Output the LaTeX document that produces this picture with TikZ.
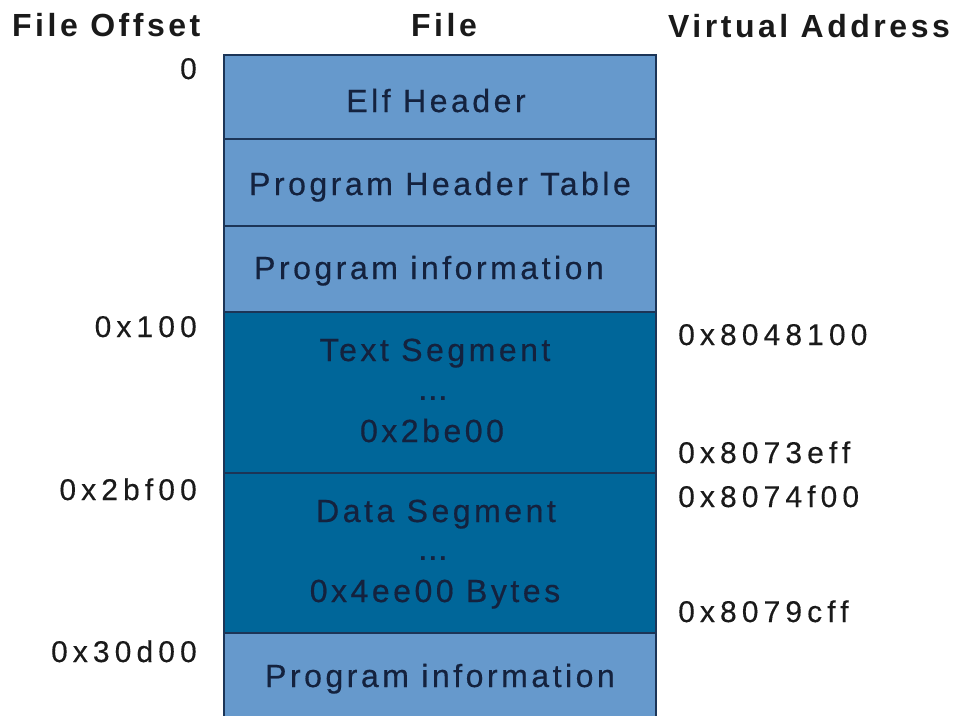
\documentclass[tikz,border=0pt]{standalone}
\usepackage{fontspec}
\setmainfont{Liberation Sans}
\newfontfamily\boxfont[LetterSpace=11, FakeBold=0.5]{Liberation Sans}
\newfontfamily\headfont[LetterSpace=11]{Liberation Sans Bold}
\newfontfamily\labfont[LetterSpace=17, FakeBold=0.3]{Liberation Sans}
\definecolor{segLight}{HTML}{6699CC}
\definecolor{segDark}{HTML}{006699}
\definecolor{segEdge}{HTML}{1C3557}
\definecolor{segInk}{HTML}{14223E}
\definecolor{labInk}{HTML}{1A1A1A}
\tikzset{
  cell/.style={draw=segEdge, line width=2pt, rectangle, inner sep=0pt,
               minimum width=432pt},
  lightcell/.style={cell, fill=segLight},
  darkcell/.style={cell, fill=segDark},
  head/.style={inner sep=0pt, text=labInk, font=\headfont\fontsize{32}{36}\selectfont},
  intext/.style={inner sep=0pt, anchor=base, text=segInk, font=\boxfont\fontsize{32}{36}\selectfont},
  dots/.style={inner sep=0pt, anchor=base, text=segInk, font=\headfont\fontsize{26}{30}\selectfont},
  offlab/.style={inner sep=0pt, anchor=base east, text=labInk, font=\labfont\fontsize{30}{34}\selectfont},
  addrlab/.style={inner sep=0pt, anchor=base west, text=labInk, font=\labfont\fontsize{30}{34}\selectfont},
}
\begin{document}
\begin{tikzpicture}[x=1pt, y=-1pt]
\useasboundingbox (0,0) rectangle (960,715);

% column headings
\node[head, anchor=base west] (hOffset) at (12,36) {File Offset};
\node[head, anchor=base] (hFile) at (444,36) {File};
\node[head, anchor=base west] (hAddr) at (668,37) {Virtual Address};

% the file layout, one cell per part
\begin{scope}
\clip (0,0) rectangle (960,715);
\node[lightcell, minimum height=84pt]  (elf)   at (440,97)    {};
\node[lightcell, minimum height=87pt]  (pht)   at (440,182.5) {};
\node[lightcell, minimum height=86pt]  (info1) at (440,269)   {};
\node[darkcell,  minimum height=161pt] (text)  at (440,392.5) {};
\node[darkcell,  minimum height=160pt] (data)  at (440,553)   {};
\node[lightcell, minimum height=112pt] (info2) at (440,689)   {};
\end{scope}

% cell contents
\node[intext] (tElf)   at (436,112) {Elf Header};
\node[intext] (tPht)   at (440,195) {Program Header Table};
\node[intext] (tInfo1) at (429,279) {Program information};
\node[intext] (tText)  at (435,361) {Text Segment};
\node[dots]   (dText)  at (433,400) {...};
\node[intext] (tTextSz) at (432,442) {0x2be00};
\node[intext] (tData)  at (436,522) {Data Segment};
\node[dots]   (dData)  at (433,560) {...};
\node[intext] (tDataSz) at (435,602) {0x4ee00 Bytes};
\node[intext] (tInfo2) at (440,687) {Program information};

% file offsets
\node[offlab] (o0) at (197,79)  {0};
\node[offlab] (o1) at (197,337) {0x100};
\node[offlab] (o2) at (197,500) {0x2bf00};
\node[offlab] (o3) at (197,662) {0x30d00};

% virtual addresses
\node[addrlab] (a0) at (678,345) {0x8048100};
\node[addrlab] (a1) at (678,463) {0x8073eff};
\node[addrlab] (a2) at (678,507) {0x8074f00};
\node[addrlab] (a3) at (678,622) {0x8079cff};
\end{tikzpicture}
\end{document}
